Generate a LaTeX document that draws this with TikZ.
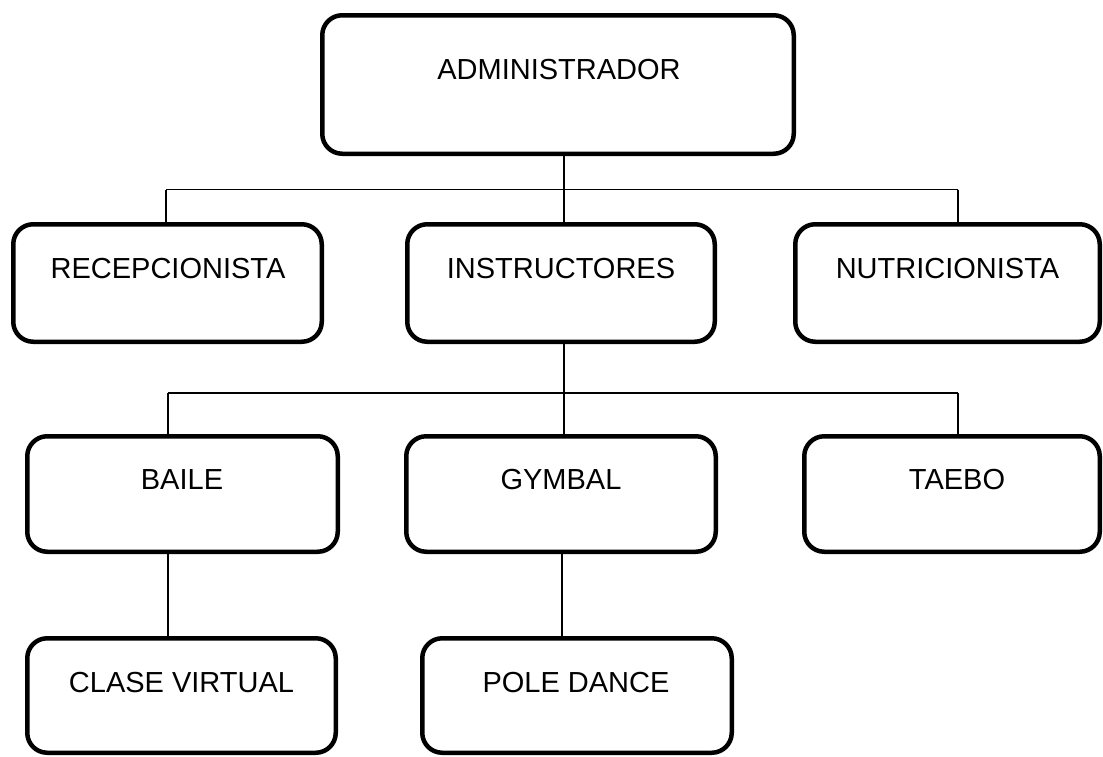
\documentclass[tikz,border=0pt]{standalone}
\usepackage{fontspec}
\setmainfont{Liberation Sans}
\begin{document}
\begin{tikzpicture}[x=1pt,y=-1pt,
  orgbox/.style={draw=black, line width=4.5pt, rounded corners=20pt, fill=white,
                 rectangle, inner sep=0pt},
  orglabel/.style={anchor=base, inner sep=0pt, font=\fontsize{29}{34}\selectfont},
  link/.style={draw=black, line width=1.6pt}]
\useasboundingbox (0,0) rectangle (1103,756);

% boxes: centre, size
\node[orgbox, minimum width=471.5pt, minimum height=138.5pt] (admin)  at (558,84.5) {};
\node[orgbox, minimum width=308.5pt, minimum height=117.5pt] (recep)  at (167.5,283) {};
\node[orgbox, minimum width=307.5pt, minimum height=117.5pt] (instr)  at (561,283) {};
\node[orgbox, minimum width=304.5pt, minimum height=117.5pt] (nutri)  at (947.5,283) {};
\node[orgbox, minimum width=310.5pt, minimum height=115.5pt] (baile)  at (182.5,494) {};
\node[orgbox, minimum width=309.5pt, minimum height=115.5pt] (gymbal) at (561,494) {};
\node[orgbox, minimum width=295.5pt, minimum height=115.5pt] (taebo)  at (952,494) {};
\node[orgbox, minimum width=308.5pt, minimum height=114.5pt] (clase)  at (181.5,695.5) {};
\node[orgbox, minimum width=309.5pt, minimum height=114.5pt] (pole)   at (577,695.5) {};

% labels, set near the top of each box
\node[orglabel] (admin-t)  at (559,79)   {ADMINISTRADOR};
\node[orglabel] (recep-t)  at (168,278)  {RECEPCIONISTA};
\node[orglabel] (instr-t)  at (561,278)  {INSTRUCTORES};
\node[orglabel] (nutri-t)  at (947.5,278){NUTRICIONISTA};
\node[orglabel] (baile-t)  at (182,489)  {BAILE};
\node[orglabel] (gymbal-t) at (561,489)  {GYMBAL};
\node[orglabel] (taebo-t)  at (957,489)  {TAEBO};
\node[orglabel] (clase-t)  at (181.5,692){CLASE VIRTUAL};
\node[orglabel] (pole-t)   at (576,692)  {POLE DANCE};

% first level branch
\coordinate (b1m) at (564,189.5);
\coordinate (b1l) at (166,189.5);
\coordinate (b1r) at (958,189.5);
\draw[link] (admin.south -| b1m) -- (b1m);
\draw[link] (b1l) -- (b1r);
\draw[link] (b1l) -- (recep.north -| b1l);
\draw[link] (b1m) -- (instr.north -| b1m);
\draw[link] (b1r) -- (nutri.north -| b1r);

% second level branch
\coordinate (b2m) at (564,393);
\coordinate (b2l) at (168,393);
\coordinate (b2r) at (958,393);
\draw[link] (instr.south -| b2m) -- (b2m);
\draw[link] (b2l) -- (b2r);
\draw[link] (b2l) -- (baile.north -| b2l);
\draw[link] (b2m) -- (gymbal.north -| b2m);
\draw[link] (b2r) -- (taebo.north -| b2r);

% third level
\coordinate (b3l) at (168,560);
\coordinate (b3m) at (562,560);
\draw[link] (baile.south -| b3l) -- (clase.north -| b3l);
\draw[link] (gymbal.south -| b3m) -- (pole.north -| b3m);
\end{tikzpicture}
\end{document}
